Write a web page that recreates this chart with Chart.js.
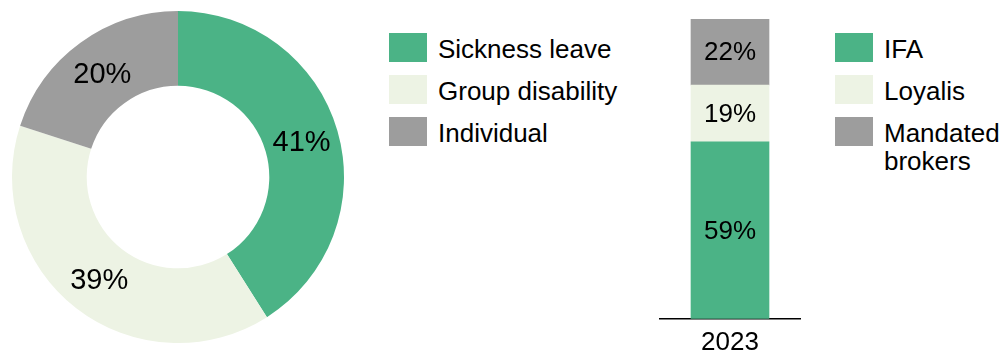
<!DOCTYPE html>
<html lang="en">
<head>
    <meta charset="UTF-8">
    <title>Portfolio split</title>
    <script src="https://cdn.jsdelivr.net/npm/chart.js"></script>
    <style>
        html, body { margin: 0; padding: 0; background: #fff; overflow: hidden; }
        body { width: 1005px; height: 352px; position: relative; font-family: Arial, "Liberation Sans", sans-serif; }
        canvas { position: absolute; top: 0; }
        .legend { position: absolute; top: 33px; }
        .legend .item { display: flex; align-items: flex-start; margin-bottom: 12px; }
        .legend .box { width: 38px; height: 29px; flex: none; margin-right: 11px; }
        .legend .txt { font-size: 26px; line-height: 28px; color: #000; margin-top: 2px; }
    </style>
</head>
<body>

    <canvas id="donut" width="356" height="352" style="left:0"></canvas>
    <div class="legend" id="donutLegend" style="left:389px; width:250px"></div>

    <canvas id="bar" width="160" height="366" style="left:650px"></canvas>
    <div class="legend" id="barLegend" style="left:835px; width:170px"></div>

    <script>
        // product split (doughnut)
        const productLabels = ['Sickness leave', 'Group disability', 'Individual']
        const productValues = [41, 39, 20]

        // distribution channels (stacked bar)
        const channelYears = ['2023']
        const channelNames = ['IFA', 'Loyalis', 'Mandated brokers']
        const channelValues = [[59], [19], [22]]

        const colores = ['#4bb386', '#edf3e4', '#9d9d9d']

        // writes the percentage in the middle of every arc / bar piece
        const valueLabels = {
            id: 'valueLabels',
            afterDatasetsDraw(chart, args, opts) {
                const ctx = chart.ctx
                ctx.save()
                ctx.fillStyle = '#000'
                ctx.font = opts.size + 'px Arial, "Liberation Sans", sans-serif'
                ctx.textAlign = 'center'
                ctx.textBaseline = 'middle'
                chart.data.datasets.forEach((ds, i) => {
                    chart.getDatasetMeta(i).data.forEach((el, j) => {
                        const p = el.getCenterPoint()
                        ctx.fillText(ds.data[j] + '%', p.x, p.y + (opts.dy || 0))
                    })
                })
                ctx.restore()
            }
        }

        const donut = new Chart(document.getElementById('donut'), {
            type: 'doughnut',
            data: {
                labels: productLabels,
                datasets: [{
                    data: productValues,
                    backgroundColor: colores,
                    borderWidth: 0
                }]
            },
            options: {
                responsive: false,
                animation: false,
                cutout: '55%',
                layout: { padding: { left: 12, right: 12, top: 11, bottom: 9 } },
                plugins: {
                    legend: { display: false },
                    tooltip: { enabled: false },
                    valueLabels: { size: 29, dy: 2 }
                }
            },
            plugins: [valueLabels]
        })

        const bar = new Chart(document.getElementById('bar'), {
            type: 'bar',
            data: {
                labels: channelYears,
                datasets: channelNames.map((name, i) => ({
                    label: name,
                    data: channelValues[i],
                    backgroundColor: colores[i],
                    borderWidth: 0,
                    barThickness: 78
                }))
            },
            options: {
                responsive: false,
                animation: false,
                layout: { autoPadding: false, padding: { left: 10, right: 10, top: 19, bottom: 0 } },
                scales: {
                    x: {
                        stacked: true,
                        grid: { display: false, drawTicks: false },
                        border: { display: true, color: '#000', width: 1.5 },
                        ticks: { color: '#000', padding: 8, font: { size: 26, family: 'Arial, "Liberation Sans", sans-serif' } }
                    },
                    y: { stacked: true, display: false, min: 0, max: 100 }
                },
                plugins: {
                    legend: { display: false },
                    tooltip: { enabled: false },
                    valueLabels: { size: 26, dy: 1 }
                }
            },
            plugins: [valueLabels]
        })

        // html legends built from the chart data
        const pintarLeyenda = (id, nombres) => {
            let body = ''
            nombres.forEach((n, i) => {
                body += `<div class="item"><div class="box" style="background:${colores[i]}"></div><div class="txt">${n}</div></div>`
            })
            document.getElementById(id).innerHTML = body
        }
        pintarLeyenda('donutLegend', donut.data.labels)
        pintarLeyenda('barLegend', bar.data.datasets.map(d => d.label))
    </script>

</body>
</html>
